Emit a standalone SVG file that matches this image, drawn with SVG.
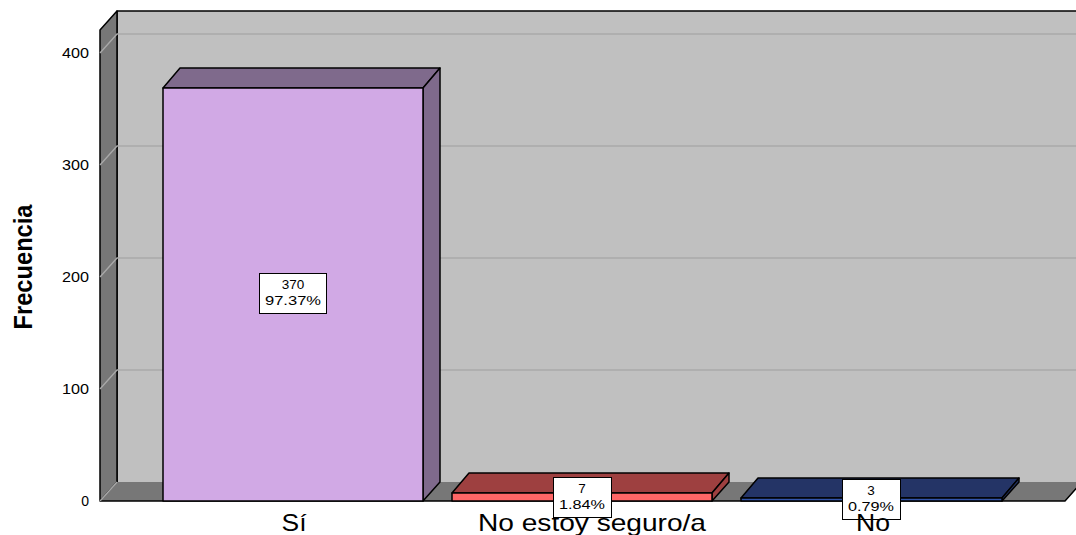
<svg xmlns="http://www.w3.org/2000/svg" width="1076" height="535" viewBox="0 0 1076 535">
<style>
text{font-family:"Liberation Sans",Arial,sans-serif;fill:#000}
.tick{font-size:14px;text-anchor:end}
.cat{font-size:24px;text-anchor:middle}
.lbl{font-size:13.5px;text-anchor:middle}
.edge{stroke:#000;stroke-width:1.5;stroke-linejoin:round}
.grid{stroke:#A9A9A9;stroke-width:1.3;fill:none}
.box{fill:#fff;stroke:#000;stroke-width:1}
</style>
<rect width="1076" height="535" fill="#fff"/>
<g id="walls">
<rect x="117" y="11" width="965" height="471" fill="#C0C0C0"/>
<path d="M117 482 V11 H1082" fill="none" class="edge"/>
<polygon points="100,30 117,11 117,482 100,501" fill="#777777" class="edge"/>
<polygon points="100,501 117,482 1082,482 1065,501" fill="#777777"/>
<path d="M100 501 H1065 L1082 482" fill="none" class="edge"/>
<path d="M100 501 L117 482" class="grid" stroke="#B8B8B8"/>
</g>
<g id="gridlines">
<path class="grid" d="M100 53 L117 34 H1076 M100 165 L117 146 H1076 M100 277 L117 258 H1076 M100 389 L117 370 H1076"/>
</g>
<g id="axis-labels">
<text class="tick" x="89" y="58" textLength="27" lengthAdjust="spacingAndGlyphs">400</text>
<text class="tick" x="89" y="170" textLength="27" lengthAdjust="spacingAndGlyphs">300</text>
<text class="tick" x="89" y="282" textLength="27" lengthAdjust="spacingAndGlyphs">200</text>
<text class="tick" x="89" y="394" textLength="27" lengthAdjust="spacingAndGlyphs">100</text>
<text class="tick" x="89" y="506">0</text>
<text x="0" y="0" transform="translate(32,267) scale(1.2,1) rotate(-90)" font-size="22" font-weight="bold" text-anchor="middle" textLength="125" lengthAdjust="spacingAndGlyphs">Frecuencia</text>
</g>
<g id="bar-si">
<polygon points="163,88 180,68 440,68 423,88" fill="#7F6A8C" class="edge"/>
<polygon points="423,88 440,68 440,482 423,501" fill="#7F6A8C" class="edge"/>
<rect x="163" y="88" width="260" height="413" fill="#D1A9E5" class="edge"/>
<rect class="box" x="259.500" y="273.500" width="67" height="40"/>
<text class="lbl" x="293" y="289">370</text>
<text class="lbl" x="293" y="305" textLength="56" lengthAdjust="spacingAndGlyphs">97.37%</text>
<text class="cat" x="294" y="531" textLength="25" lengthAdjust="spacingAndGlyphs">Sí</text>
</g>
<g id="bar-noseguro">
<polygon points="452,493 469,473 729,473 712,493" fill="#9E4040" class="edge"/>
<polygon points="712,493 729,473 729,482 712,501" fill="#9E4040" class="edge"/>
<rect x="452" y="493" width="260" height="8" fill="#FF6666" class="edge"/>
<text class="cat" x="592" y="531" textLength="228" lengthAdjust="spacingAndGlyphs">No estoy seguro/a</text>
<rect class="box" x="553.500" y="477.500" width="58" height="40"/>
<text class="lbl" x="582" y="493">7</text>
<text class="lbl" x="582" y="509" textLength="46" lengthAdjust="spacingAndGlyphs">1.84%</text>
</g>
<g id="bar-no">
<polygon points="741,498 758,478 1019,478 1002,498" fill="#243466" class="edge"/>
<polygon points="1002,498 1019,478 1019,482 1002,501" fill="#243466" class="edge"/>
<rect x="741" y="498" width="261" height="3" fill="#3355AA" class="edge"/>
<rect class="box" x="842.500" y="479.500" width="58" height="40"/>
<text class="lbl" x="871" y="495">3</text>
<text class="lbl" x="871" y="511" textLength="46" lengthAdjust="spacingAndGlyphs">0.79%</text>
<text class="cat" x="873" y="531" textLength="34" lengthAdjust="spacingAndGlyphs">No</text>
</g>
</svg>
